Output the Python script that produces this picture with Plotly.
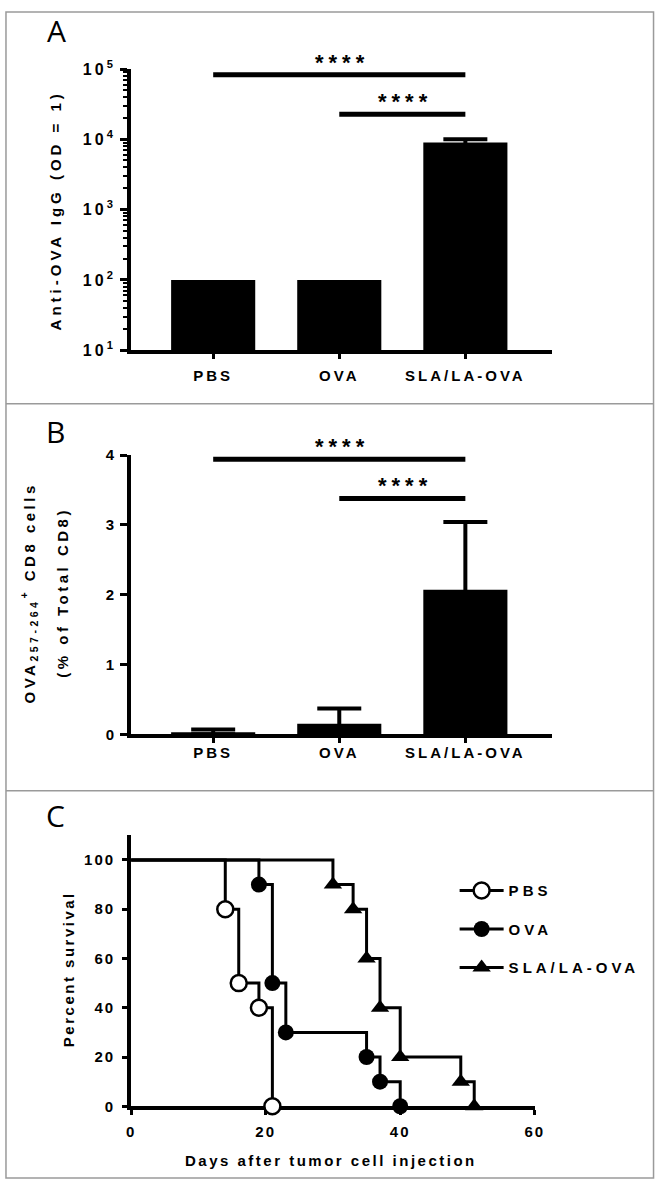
import plotly.graph_objects as go
import numpy as np

# ---------------- data ----------------
groups = ["PBS", "OVA", "SLA/LA-OVA"]
igg_mean = [100, 100, 9000]          # Anti-OVA IgG titer
igg_err = [None, None, 1000]
cd8_mean = [0.03, 0.15, 2.07]        # OVA257-264+ CD8 (% of total CD8)
cd8_err = [0.04, 0.22, 0.97]

sig_pairs = [(0, 2), (1, 2)]
sig_labels = ["****", "****"]
sig_level_A = [83000, 22700]
sig_level_B = [3.94, 3.38]

pbs_days = [0, 14, 16, 19, 21]
pbs_surv = [100, 80, 50, 40, 0]
ova_days = [0, 19, 21, 23, 35, 37, 40]
ova_surv = [100, 90, 50, 30, 20, 10, 0]
sla_days = [0, 30, 33, 35, 37, 40, 49, 51]
sla_surv = [100, 90, 80, 60, 40, 20, 10, 0]

A_tick_exp = [1, 2, 3, 4, 5]
B_ticks = [0, 1, 2, 3, 4]
C_yticks = [0, 20, 40, 60, 80, 100]
C_xticks = [0, 20, 40, 60]

# ---------------- helpers ----------------
W, H = 665, 1189
FONT = "Liberation Sans, Arial, Helvetica, sans-serif"


def px(x):
    return x / W


def py(y):
    return 1 - y / H


def sp(t, ls):
    return f'<span style="letter-spacing:{ls}px">{t}</span>'


fig = go.Figure()
xpos = list(range(len(groups)))


def add_bars(mean, err, xa, ya):
    fig.add_trace(go.Bar(
        x=xpos, y=mean, width=0.667,
        marker=dict(color="black", line=dict(width=0)),
        xaxis=xa, yaxis=ya, showlegend=False, hoverinfo="skip"))
    idx = [i for i, e in enumerate(err) if e is not None]
    # upward-only error bars; the lower arm runs down inside the black bar
    fig.add_trace(go.Scatter(
        x=[xpos[i] for i in idx], y=[mean[i] for i in idx], mode="markers",
        marker=dict(size=1, opacity=0),
        error_y=dict(type="data", array=[err[i] for i in idx], arrayminus=[mean[i] for i in idx],
                     symmetric=False, color="black", thickness=4, width=22),
        xaxis=xa, yaxis=ya, showlegend=False, hoverinfo="skip"))


def add_sig(levels, xa, ya):
    for (a, b), lev in zip(sig_pairs, levels):
        fig.add_trace(go.Scatter(x=[a, b], y=[lev, lev], mode="lines",
                                 line=dict(color="black", width=5), xaxis=xa, yaxis=ya,
                                 showlegend=False, hoverinfo="skip", cliponaxis=False))


# ---------------- panel A ----------------
add_bars(igg_mean, igg_err, "x", "y")
add_sig(sig_level_A, "x", "y")

# ---------------- panel B ----------------
add_bars(cd8_mean, cd8_err, "x2", "y2")
add_sig(sig_level_B, "x2", "y2")

# ---------------- panel C ----------------
series = [
    ("PBS", pbs_days, pbs_surv, dict(symbol="circle", size=16, color="white",
                                     line=dict(color="black", width=2.5))),
    ("OVA", ova_days, ova_surv, dict(symbol="circle", size=16, color="black",
                                     line=dict(color="black", width=0))),
    ("SLA/LA-OVA", sla_days, sla_surv, dict(symbol="triangle-up", size=16, color="black",
                                            line=dict(color="black", width=0))),
]
for name, d, s, mk in series:
    fig.add_trace(go.Scatter(x=d, y=s, mode="lines", line=dict(color="black", width=3, shape="hv"),
                             xaxis="x3", yaxis="y3", showlegend=False, hoverinfo="skip",
                             cliponaxis=False))
for name, d, s, mk in series:
    fig.add_trace(go.Scatter(x=d[1:], y=s[1:], mode="markers", marker=mk,
                             xaxis="x3", yaxis="y3", showlegend=False, hoverinfo="skip",
                             cliponaxis=False))
# legend entries
for name, d, s, mk in series:
    fig.add_trace(go.Scatter(x=[None], y=[None], mode="lines+markers", name=sp(name, 4),
                             line=dict(color="black", width=3), marker=mk,
                             xaxis="x3", yaxis="y3", legendgroup=name, showlegend=True))

# ---------------- layout ----------------
tickfont = dict(family=FONT, size=15, color="black", weight="bold")
axc = dict(showline=True, linecolor="black", linewidth=4, ticks="outside", tickcolor="black",
           showgrid=False, zeroline=False, tickfont=tickfont, fixedrange=True)

xcat = dict(axc, range=[-0.651, 2.69], tickmode="array", tickvals=xpos,
            ticktext=[sp(g, 3) for g in groups], ticklen=5, tickwidth=3)

minor_vals = [k * 10 ** d for d in range(A_tick_exp[0], A_tick_exp[-1]) for k in range(2, 10)]

fig.update_layout(
    width=W, height=H, autosize=False,
    margin=dict(l=0, r=0, t=0, b=0),
    paper_bgcolor="white", plot_bgcolor="white",
    xaxis=dict(xcat, domain=[px(129), px(560)], anchor="y", ticklabelstandoff=4),
    yaxis=dict(axc, type="log", domain=[py(345), py(59)], range=[A_tick_exp[0], A_tick_exp[-1]],
               anchor="x", tickmode="array", tickvals=[10 ** e for e in A_tick_exp],
               ticktext=[sp(f"10<sup>{e}</sup>", 3) for e in A_tick_exp],
               ticklen=7, tickwidth=3, ticklabelstandoff=1,
               tickfont=dict(tickfont, size=16),
               minor=dict(ticks="outside", ticklen=4, tickwidth=2, tickcolor="black",
                          tickmode="array", tickvals=minor_vals, showgrid=False)),
    xaxis2=dict(xcat, domain=[px(129), px(560)], anchor="y2", ticklabelstandoff=-3),
    yaxis2=dict(axc, domain=[py(735.7), py(451.7)], range=[B_ticks[0], B_ticks[-1]], anchor="x2",
                tickmode="array", tickvals=B_ticks, ticktext=[str(v) for v in B_ticks],
                ticklen=7, tickwidth=3, ticklabelstandoff=3),
    xaxis3=dict(axc, domain=[px(129), px(542)], range=[C_xticks[0], C_xticks[-1]], anchor="y3",
                tickmode="array", tickvals=C_xticks, ticktext=[sp(str(v), 2) for v in C_xticks],
                ticklen=5, tickwidth=3, ticklabelstandoff=4, layer="below traces"),
    yaxis3=dict(axc, domain=[py(1114), py(1114 - 110 * 2.505)], range=[0, 110], anchor="x3",
                tickmode="array", tickvals=C_yticks, ticktext=[sp(str(v), 2) for v in C_yticks],
                ticklen=5, tickwidth=3, ticklabelstandoff=4, layer="below traces"),
    showlegend=True,
    legend=dict(x=px(460), y=py(878), xanchor="left", yanchor="top",
                font=dict(family=FONT, size=15, color="black", weight="bold"),
                bgcolor="rgba(0,0,0,0)", tracegroupgap=16, itemwidth=44),
)


def ann(text, x, y, size=15, angle=0, family=FONT, weight="bold"):
    return dict(text=text, x=px(x), y=py(y), xref="paper", yref="paper", showarrow=False,
                textangle=angle, xanchor="center", yanchor="middle",
                font=dict(family=family, size=size, color="black", weight=weight))


annotations = [
    ann("A", 53, 20, size=30, family="Open Sans, sans-serif", weight="normal"),
    ann("B", 52, 428, size=30, family="Open Sans, sans-serif", weight="normal"),
    ann("C", 52, 818, size=30, family="Open Sans, sans-serif", weight="normal"),
    ann(sp("Anti-OVA IgG (OD = 1)", 4), 52, 203, angle=-90),
    ann(sp("OVA<sub>257-264</sub><sup>+</sup> CD8 cells", 3.5), 24, 592, angle=-90),
    ann(sp("(% of Total CD8)", 3.5), 58, 591, angle=-90),
    ann(sp("Percent survival", 2.5), 65, 975, angle=-90),
    ann(sp("Days after tumor cell injection", 2.5), 334, 1169),
]

starfont = dict(family=FONT, size=22, color="black", weight="bold")
for (a, b), lev, lab in zip(sig_pairs, sig_level_A, sig_labels):
    annotations.append(dict(text=sp(lab, 5), x=(a + b) / 2, y=np.log10(lev), xref="x", yref="y",
                            showarrow=False, xanchor="center", yanchor="bottom", yshift=-2, xshift=3,
                            font=starfont))
for (a, b), lev, lab in zip(sig_pairs, sig_level_B, sig_labels):
    annotations.append(dict(text=sp(lab, 5), x=(a + b) / 2, y=lev, xref="x2", yref="y2",
                            showarrow=False, xanchor="center", yanchor="bottom", yshift=-2, xshift=3,
                            font=starfont))

fig.update_layout(annotations=annotations)

# panel borders / separators (decoration)
gray = "#9a9a9a"
fig.update_layout(shapes=[
    dict(type="rect", xref="paper", yref="paper", x0=px(1), x1=px(663.5), y0=py(1187), y1=py(1),
         line=dict(color=gray, width=1.5), layer="below"),
    dict(type="line", xref="paper", yref="paper", x0=px(1), x1=px(663.5), y0=py(399.5), y1=py(399.5),
         line=dict(color=gray, width=1.5), layer="below"),
    dict(type="line", xref="paper", yref="paper", x0=px(1), x1=px(663.5), y0=py(793), y1=py(793),
         line=dict(color=gray, width=1.5), layer="below"),
])

fig.write_html(
    "out.html",
    config={"displayModeBar": False},
    post_script="document.body.style.margin='0';document.body.style.padding='0';"
                "document.documentElement.style.overflow='hidden';",
)
